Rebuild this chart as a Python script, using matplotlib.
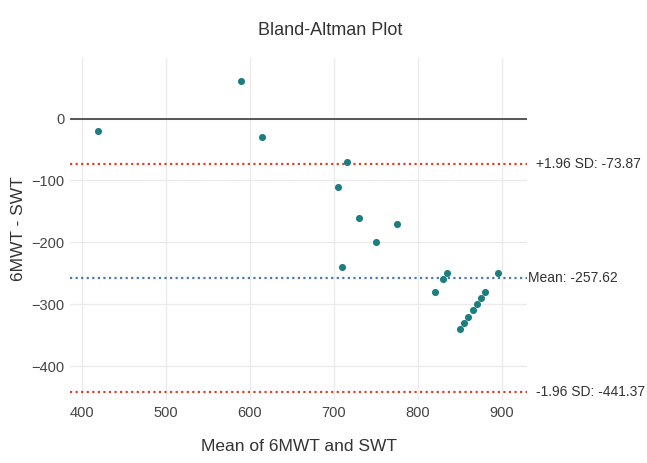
import numpy as np
import matplotlib
matplotlib.use("Agg")
import matplotlib.pyplot as plt

plt.rcParams['font.family'] = ['Liberation Sans', 'DejaVu Sans']

# mean of the two tests (x) and their difference (y)
mean_vals = [420, 590, 615, 715, 705, 730, 775, 750, 710, 835, 830, 895, 820,
             880, 875, 870, 865, 860, 855, 850]
diff_vals = [-20, 60, -30, -70, -110, -160, -170, -200, -240, -250, -260, -250, -280,
             -280, -290, -300, -310, -320, -330, -340]

mean_diff = -257.62
upper_loa = -73.87
lower_loa = -441.37

x_ticks = [400, 500, 600, 700, 800, 900]
y_ticks = [0, -100, -200, -300, -400]

fig = plt.figure(figsize=(6.47, 4.63), dpi=100)
ax = fig.add_axes([0.108, 0.136, 0.707, 0.739])

ax.scatter(mean_vals, diff_vals, s=26, color='#1b7f7f', zorder=3, linewidths=0)

ax.axhline(0, color='#555555', lw=1.4, zorder=2)
ax.axhline(upper_loa, color='#e0402a', lw=1.6, ls=(0, (1, 1.5)), zorder=2)
ax.axhline(mean_diff, color='#4a78b8', lw=1.6, ls=(0, (1, 1.5)), zorder=2)
ax.axhline(lower_loa, color='#e0402a', lw=1.6, ls=(0, (1, 1.5)), zorder=2)

ax.set_xlim(386, 930)
ax.set_ylim(-455, 98)
ax.set_xticks(x_ticks)
ax.set_yticks(y_ticks)
ax.set_yticklabels(['0', '\u2212100', '\u2212200', '\u2212300', '\u2212400'])
ax.grid(True, color='#ebebeb', lw=1)
ax.set_axisbelow(True)
for s in ax.spines.values():
    s.set_visible(False)
ax.tick_params(length=0, labelsize=10.5, labelcolor='#444444', pad=4)

tr = ax.get_yaxis_transform()
ax.text(1.02, upper_loa, '+1.96 SD: -73.87', transform=tr, va='center', ha='left',
        fontsize=10, color='#333333')
ax.text(1.002, mean_diff, 'Mean: -257.62', transform=tr, va='center', ha='left',
        fontsize=10, color='#333333')
ax.text(1.02, lower_loa, '-1.96 SD: -441.37', transform=tr, va='center', ha='left',
        fontsize=10, color='#333333')

fig.text(0.51, 0.935, 'Bland-Altman Plot', ha='center', va='center', fontsize=13,
         color='#333333')
ax.set_xlabel('Mean of 6MWT and SWT', fontsize=12.5, color='#333333', labelpad=14)
ax.set_ylabel('6MWT - SWT', fontsize=12.5, color='#333333', labelpad=4)

fig.savefig('out.png', dpi=100)
